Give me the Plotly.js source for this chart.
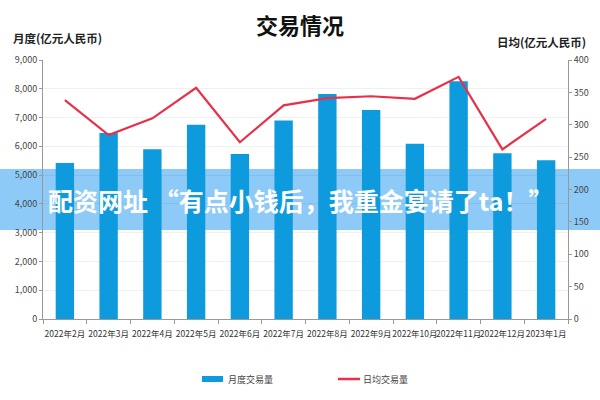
<!DOCTYPE html>
<html>
<head>
<meta charset="utf-8">
<script src="https://cdn.plot.ly/plotly-3.0.1.min.js"></script>
<style>html,body{margin:0;padding:0;background:#fff}#chart{width:600px;height:400px}</style>
</head>
<body>
<div id="chart"></div>
<script>
const months = ['2022年2月','2022年3月','2022年4月','2022年5月','2022年6月','2022年7月','2022年8月','2022年9月','2022年10月','2022年11月','2022年12月','2023年1月'];
const monthlyVolume = [5420, 6460, 5900, 6750, 5730, 6900, 7820, 7260, 6090, 8260, 5760, 5520];
const dailyAvg = [338, 284, 310, 357, 273, 330, 341, 344, 340, 374, 262, 309];
const seriesNames = ['月度交易量', '日均交易量'];

const FONT = '"Noto Sans CJK SC", "Noto Sans", sans-serif';
const BAR_COLOR = '#0E9BDD';
const LINE_COLOR = '#E8304A';

const traces = [
  {
    type: 'bar', name: seriesNames[0], x: months, y: monthlyVolume,
    marker: {color: BAR_COLOR}, width: 0.42, yaxis: 'y'
  },
  {
    type: 'scatter', mode: 'lines', name: seriesNames[1], x: months, y: dailyAvg,
    line: {color: LINE_COLOR, width: 2.2}, yaxis: 'y2'
  }
];

// pixel helpers for paper coordinates (plot area: x 43..568, y 60..319)
const px = v => (v - 43) / 525;
const py = v => (319 - v) / 259;

const layout = {
  width: 600, height: 400,
  margin: {l: 43, r: 32, t: 60, b: 81},
  paper_bgcolor: '#fff', plot_bgcolor: 'rgba(0,0,0,0)',
  font: {family: FONT, color: '#444', size: 9},
  title: {text: '<b>交易情况</b>', font: {family: FONT, size: 22, color: '#111'},
          x: 0.5, xanchor: 'center', y: 0.935, yanchor: 'middle', yref: 'container'},
  showlegend: false,
  xaxis: {
    type: 'category', showline: true, linecolor: '#999', linewidth: 1,
    ticks: 'outside', ticklen: 4, tickcolor: '#999', tickson: 'boundaries',
    ticklabelstandoff: 7,
    tickangle: 0, tickfont: {family: FONT, size: 8.5, color: '#333'}, showgrid: false
  },
  yaxis: {
    range: [0, 9000], dtick: 1000, tickformat: ',d', showline: true, linecolor: '#999',
    ticks: 'outside', ticklen: 3, tickcolor: '#999',
    gridcolor: 'rgba(0,0,0,0.06)', zeroline: false,
    tickfont: {family: FONT, size: 9, color: '#444'}
  },
  yaxis2: {
    range: [0, 400], dtick: 50, overlaying: 'y', side: 'right', showline: true,
    linecolor: '#999', ticks: 'outside', ticklen: 3, tickcolor: '#999',
    showgrid: false, zeroline: false,
    tickfont: {family: FONT, size: 9, color: '#444'}
  },
  annotations: [
    {text: '<b>月度(亿元人民币)</b>', xref: 'paper', yref: 'paper', x: px(11), y: py(38),
     xanchor: 'left', yanchor: 'middle', showarrow: false, font: {family: FONT, size: 11.5, color: '#222'}},
    {text: '<b>日均(亿元人民币)</b>', xref: 'paper', yref: 'paper', x: px(588), y: py(42),
     xanchor: 'right', yanchor: 'middle', showarrow: false, font: {family: FONT, size: 11.5, color: '#222'}},
    {text: seriesNames[0], xref: 'paper', yref: 'paper', x: px(226), y: py(379),
     xanchor: 'left', yanchor: 'middle', showarrow: false, font: {family: FONT, size: 9, color: '#444'}},
    {text: seriesNames[1], xref: 'paper', yref: 'paper', x: px(361), y: py(379),
     xanchor: 'left', yanchor: 'middle', showarrow: false, font: {family: FONT, size: 9, color: '#444'}},
    {text: '<b>配资网址 “有点小钱后，我重金宴请了ta！”</b>', xref: 'paper', yref: 'paper',
     x: px(300), y: py(200), xanchor: 'center', yanchor: 'middle', showarrow: false,
     font: {family: FONT, size: 25, color: '#fff'}}
  ],
  shapes: [
    {type: 'rect', xref: 'paper', yref: 'paper', x0: px(202), x1: px(223), y0: py(382), y1: py(376),
     fillcolor: BAR_COLOR, line: {width: 0}},
    {type: 'line', xref: 'paper', yref: 'paper', x0: px(338), x1: px(360), y0: py(379), y1: py(379),
     line: {color: LINE_COLOR, width: 2.5}},
    {type: 'rect', xref: 'paper', yref: 'paper', x0: px(0), x1: px(600),
     y0: py(230), y1: py(169), fillcolor: '#8ECAF7', line: {width: 0}, layer: 'below'}
  ]
};

Plotly.newPlot('chart', traces, layout, {displayModeBar: false, staticPlot: true});
</script>
</body>
</html>
